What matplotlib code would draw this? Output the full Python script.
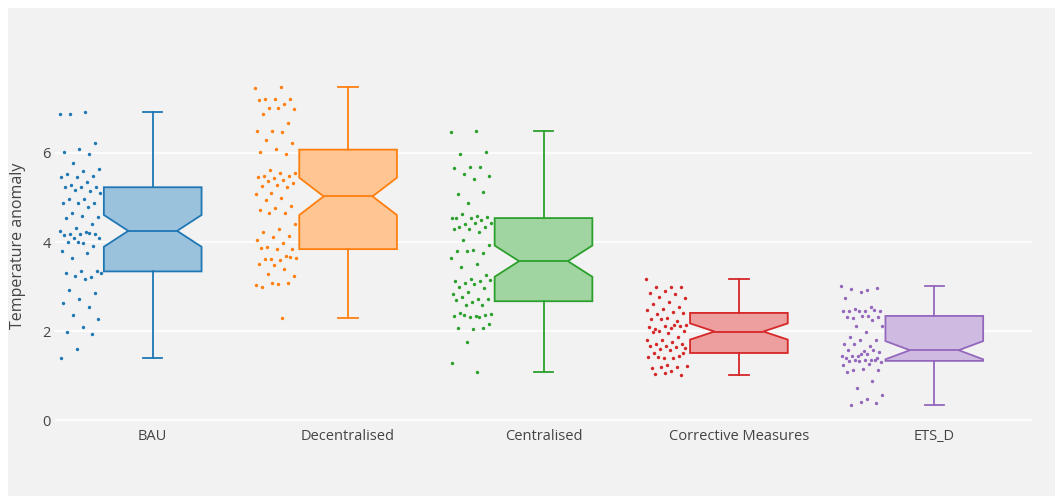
import numpy as np
import matplotlib
matplotlib.use("Agg")
import matplotlib.pyplot as plt
from matplotlib.colors import to_rgb
from matplotlib.patches import Rectangle

plt.rcParams['font.family'] = ['Open Sans', 'DejaVu Sans']

categories = ["BAU", "Decentralised", "Centralised", "Corrective Measures", "ETS_D"]
colors = ["#1f77b4", "#ff7f0e", "#2ca02c", "#d62728", "#9467bd"]

bau = [6.87, 6.91, 6.87, 6.22, 6.08, 6.03, 5.98, 5.77, 5.65, 5.59, 5.53, 5.49,
       5.47, 5.45, 5.34, 5.27, 5.23, 5.23, 5.23, 5.14, 5.17, 5.09, 4.97, 4.97,
       4.87, 4.88, 4.88, 4.78, 4.66, 4.57, 4.58, 4.53, 4.40, 4.32, 4.25, 4.23,
       4.17, 4.18, 4.18, 4.15, 4.20, 4.10, 4.08, 3.97, 4.01, 3.92, 4.01, 3.80,
       3.75, 3.65, 3.34, 3.36, 3.31, 3.21, 3.24, 3.30, 3.18, 2.92, 2.85, 2.73,
       2.62, 2.55, 2.37, 2.27, 2.10, 1.97, 1.94, 1.60, 1.40]
decentralised = [7.45, 7.48, 7.21, 7.21, 7.22, 7.20, 7.10, 7.00, 6.99, 7.00,
                 6.88, 6.67, 6.49, 6.49, 6.46, 6.30, 6.22, 6.09, 6.03, 5.97,
                 5.62, 5.54, 5.54, 5.49, 5.49, 5.43, 5.45, 5.40, 5.37, 5.33,
                 5.27, 5.26, 5.23, 5.10, 5.07, 4.98, 4.94, 4.81, 4.76, 4.73,
                 4.65, 4.65, 4.40, 4.29, 4.23, 4.13, 4.11, 4.05, 3.98, 3.89,
                 3.84, 3.84, 3.87, 3.69, 3.62, 3.63, 3.60, 3.62, 3.66, 3.48,
                 3.50, 3.39, 3.28, 3.24, 3.06, 3.00, 3.07, 3.09, 3.04, 2.29]
centralised = [6.46, 6.49, 5.97, 6.02, 5.69, 5.66, 5.68, 5.53, 5.48, 5.42,
               5.08, 5.13, 4.87, 4.54, 4.58, 4.62, 4.57, 4.55, 4.53, 4.49,
               4.41, 4.43, 4.42, 4.34, 4.34, 4.29, 4.29, 4.22, 4.04, 3.94,
               3.83, 3.79, 3.76, 3.80, 3.63, 3.51, 3.44, 3.27, 3.18, 3.12,
               3.12, 3.09, 3.14, 3.06, 2.98, 2.96, 2.88, 2.84, 2.73, 2.76,
               2.73, 2.66, 2.70, 2.58, 2.58, 2.38, 2.34, 2.40, 2.35, 2.32,
               2.34, 2.32, 2.37, 2.15, 2.04, 2.07, 2.08, 1.75, 1.29, 1.07]
corrective = [3.16, 2.98, 3.00, 2.98, 2.90, 2.86, 2.83, 2.76, 2.74, 2.65,
              2.61, 2.55, 2.49, 2.47, 2.43, 2.38, 2.40, 2.30, 2.26, 2.22,
              2.26, 2.13, 2.08, 2.05, 2.12, 2.12, 2.09, 2.14, 2.01, 2.00,
              1.95, 1.98, 1.87, 1.81, 1.80, 1.76, 1.72, 1.70, 1.66, 1.66,
              1.65, 1.60, 1.62, 1.57, 1.50, 1.45, 1.39, 1.41, 1.39, 1.42,
              1.51, 1.24, 1.18, 1.20, 1.20, 1.21, 1.11, 1.03, 1.02, 1.05]
ets_d = [3.01, 2.92, 2.94, 2.97, 2.88, 2.74, 2.53, 2.49, 2.44, 2.46,
         2.46, 2.47, 2.46, 2.46, 2.34, 2.29, 2.32, 2.34, 2.31, 2.24,
         2.12, 2.12, 1.98, 1.87, 1.79, 1.79, 1.70, 1.66, 1.72, 1.54,
         1.55, 1.57, 1.57, 1.44, 1.44, 1.48, 1.43, 1.40, 1.48, 1.40,
         1.34, 1.34, 1.30, 1.35, 1.33, 1.34, 1.33, 1.24, 1.25, 1.12,
         1.12, 1.14, 1.09, 0.87, 0.73, 0.57, 0.47, 0.35, 0.38, 0.41]

series = [bau, decentralised, centralised, corrective, ets_d]
yticks = [0, 2, 4, 6]

W, H = 1055, 496
fig = plt.figure(figsize=(W / 100, H / 100), dpi=100, facecolor="white")
# gray paper area with a thin white margin at top and left
fig.patches.append(Rectangle((8 / W, 0), 1, (H - 8) / H, transform=fig.transFigure,
                             facecolor="#f2f2f2", edgecolor="none", zorder=-10))
ax = fig.add_axes([55 / W, (H - 421) / H, (1032 - 55) / W, (421 - 70.6) / H])
ax.set_facecolor("#f2f2f2")

positions = np.arange(len(categories))
for i, (vals, c) in enumerate(zip(series, colors)):
    bp = ax.boxplot([vals], positions=[i], widths=0.5, notch=True, whis=(0, 100),
                    patch_artist=True, showfliers=False, capwidths=[0.1],
                    medianprops=dict(color=c, linewidth=1.3),
                    boxprops=dict(edgecolor=c, linewidth=1.3),
                    whiskerprops=dict(color=c, linewidth=1.3),
                    capprops=dict(color=c, linewidth=1.3))
    # light fill: line colour washed with white
    fill = 1 - 0.45 * (1 - np.array(to_rgb(c)))
    for b in bp["boxes"]:
        b.set_facecolor(fill)
    # deterministic jitter to the left of each box
    n = len(vals)
    jit = ((np.arange(n) * 0.618034) % 1 - 0.5) * 0.21
    ax.scatter(i - 0.37 + jit, vals, s=6, color=c, linewidths=0, zorder=3)

ax.set_xlim(-0.5, 4.5)
ax.set_ylim(-0.02, 7.85)
ax.set_xticks(positions)
ax.set_xticklabels(categories)
ax.set_yticks(yticks)
ax.yaxis.grid(True, color="white", linewidth=1.2)
ax.set_axisbelow(True)
for s in ax.spines.values():
    s.set_visible(False)
ax.tick_params(axis="both", length=0, labelsize=10.5, colors="#444444")
ax.tick_params(axis="y", pad=3)
ax.tick_params(axis="x", pad=6)
ax.set_ylabel("Temperature anomaly", fontsize=11.5, color="#444444", labelpad=12)

fig.savefig("out.png", dpi=100, facecolor=fig.get_facecolor())
